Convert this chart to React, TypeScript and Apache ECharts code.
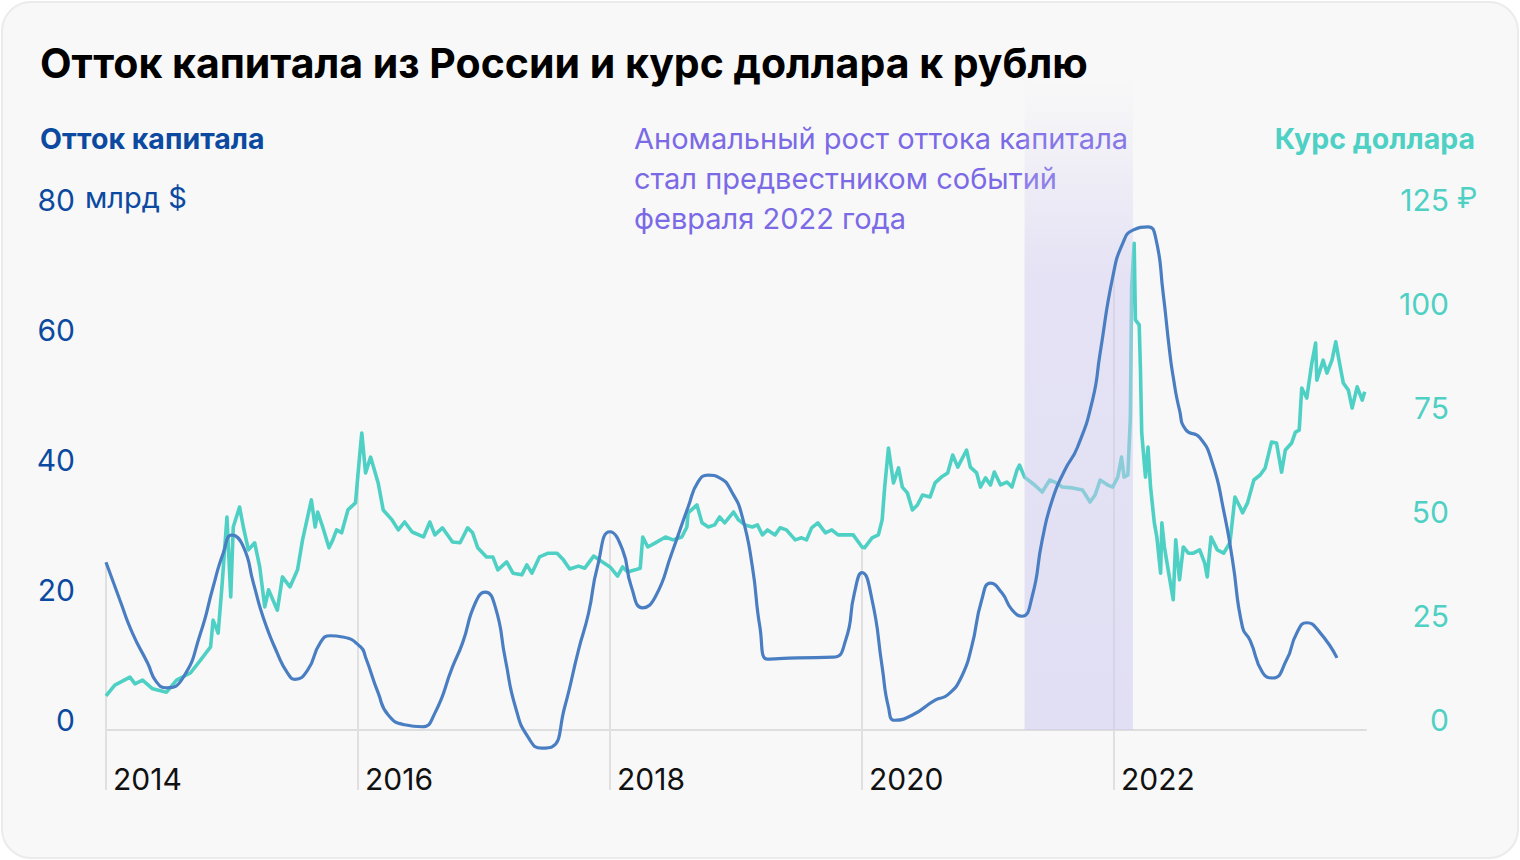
import React, { useEffect, useRef } from "react";
import * as echarts from "echarts";

// ---- DATA ----
const outflowYears = [
  2014.0, 2014.11, 2014.21, 2014.33, 2014.4, 2014.48, 2014.61, 2014.75, 2014.85, 2014.93,
  2015.0, 2015.09, 2015.17, 2015.25, 2015.36, 2015.44, 2015.5, 2015.6, 2015.7, 2015.78,
  2015.88, 2016.02, 2016.06, 2016.16, 2016.24, 2016.37, 2016.51, 2016.61, 2016.75, 2016.83,
  2016.93, 2017.01, 2017.09, 2017.17, 2017.25, 2017.35, 2017.46, 2017.54, 2017.64, 2017.75,
  2017.83, 2017.9, 2018.0, 2018.1, 2018.17, 2018.26, 2018.36, 2018.49, 2018.62, 2018.7,
  2018.78, 2018.87, 2018.97, 2019.05, 2019.13, 2019.19, 2019.25, 2019.49, 2019.77, 2019.87,
  2019.94, 2020.0, 2020.08, 2020.16, 2020.21, 2020.26, 2020.4, 2020.58, 2020.68, 2020.79,
  2020.87, 2020.95, 2021.02, 2021.11, 2021.19, 2021.27, 2021.35, 2021.43, 2021.51, 2021.61,
  2021.71, 2021.83, 2021.89, 2021.99, 2022.07, 2022.15, 2022.27, 2022.33, 2022.39, 2022.44,
  2022.47, 2022.52, 2022.57, 2022.68, 2022.78, 2022.87, 2022.94, 2023.02, 2023.08, 2023.18,
  2023.26, 2023.37, 2023.45, 2023.53, 2023.63, 2023.77,
];
const outflowValues = [
  25.8, 20.0, 14.9, 10.3, 7.4, 6.5, 8.0, 14.9, 22.0, 27.2,
  30.0, 28.2, 22.6, 17.2, 11.8, 8.8, 7.8, 9.2, 13.4, 14.5,
  14.3, 12.8, 11.2, 5.7, 2.3, 0.8, 0.5, 2.6, 9.7, 13.4,
  19.5, 21.2, 18.9, 10.8, 3.5, -1.1, -2.8, -2.6, 3.5, 12.3,
  18.0, 25.1, 30.5, 27.7, 22.0, 18.8, 20.5, 27.2, 34.3, 38.2,
  39.2, 38.8, 36.5, 32.8, 25.1, 15.8, 10.9, 11.1, 11.2, 13.8,
  21.1, 24.2, 20.0, 9.7, 3.5, 1.5, 2.3, 4.6, 5.4, 8.2,
  12.8, 20.0, 22.6, 21.1, 18.5, 17.5, 20.5, 29.2, 35.4, 40.0,
  43.5, 50.8, 58.0, 69.7, 74.9, 76.9, 77.4, 75.8, 67.2, 58.5,
  54.3, 49.2, 46.2, 45.0, 41.1, 33.8, 26.2, 15.8, 13.8, 8.8,
  8.0, 10.8, 14.9, 16.5, 15.1, 11.1,
];

const rateYears = [
  2014.0, 2014.07, 2014.19, 2014.23, 2014.29, 2014.37, 2014.48, 2014.56, 2014.67, 2014.75,
  2014.83, 2014.85, 2014.89, 2014.92, 2014.96, 2014.99, 2015.01, 2015.06, 2015.09, 2015.13,
  2015.18, 2015.22, 2015.26, 2015.29, 2015.36, 2015.4, 2015.46, 2015.52, 2015.56, 2015.63,
  2015.66, 2015.68, 2015.72, 2015.77, 2015.8, 2015.83, 2015.87, 2015.92, 2015.98, 2016.01,
  2016.03, 2016.06, 2016.1, 2016.13, 2016.16, 2016.2, 2016.27, 2016.32, 2016.37, 2016.43,
  2016.52, 2016.57, 2016.61, 2016.67, 2016.75, 2016.81, 2016.87, 2016.91, 2016.95, 2017.02,
  2017.07, 2017.11, 2017.18, 2017.23, 2017.3, 2017.34, 2017.38, 2017.44, 2017.51, 2017.58,
  2017.63, 2017.68, 2017.75, 2017.8, 2017.87, 2017.94, 2018.0, 2018.02, 2018.06, 2018.1,
  2018.14, 2018.2, 2018.24, 2018.26, 2018.3, 2018.36, 2018.44, 2018.5, 2018.57, 2018.61,
  2018.62, 2018.69, 2018.73, 2018.78, 2018.83, 2018.87, 2018.91, 2018.98, 2019.02, 2019.07,
  2019.13, 2019.17, 2019.21, 2019.25, 2019.31, 2019.35, 2019.4, 2019.47, 2019.52, 2019.56,
  2019.6, 2019.65, 2019.71, 2019.76, 2019.81, 2019.87, 2019.93, 2020.0, 2020.02, 2020.08,
  2020.13, 2020.16, 2020.18, 2020.21, 2020.25, 2020.29, 2020.32, 2020.36, 2020.4, 2020.44,
  2020.48, 2020.54, 2020.58, 2020.63, 2020.68, 2020.72, 2020.76, 2020.83, 2020.86, 2020.91,
  2020.94, 2020.98, 2021.02, 2021.05, 2021.1, 2021.15, 2021.19, 2021.23, 2021.25, 2021.29,
  2021.37, 2021.43, 2021.49, 2021.53, 2021.59, 2021.67, 2021.75, 2021.81, 2021.85, 2021.89,
  2021.95, 2021.99, 2022.03, 2022.06, 2022.08, 2022.11, 2022.13, 2022.14, 2022.16, 2022.17,
  2022.2, 2022.21, 2022.22, 2022.25, 2022.27, 2022.29, 2022.32, 2022.34, 2022.37, 2022.38,
  2022.4, 2022.43, 2022.47, 2022.49, 2022.52, 2022.55, 2022.59, 2022.63, 2022.68, 2022.72,
  2022.74, 2022.77, 2022.82, 2022.87, 2022.92, 2022.96, 2023.0, 2023.02, 2023.06, 2023.11,
  2023.16, 2023.2, 2023.25, 2023.29, 2023.33, 2023.36, 2023.41, 2023.44, 2023.47, 2023.49,
  2023.53, 2023.57, 2023.6, 2023.61, 2023.66, 2023.69, 2023.73, 2023.76, 2023.79, 2023.82,
  2023.86, 2023.89, 2023.93, 2023.97, 2023.99,
];
const rateValues = [
  8.2, 10.8, 12.7, 11.1, 12.0, 9.9, 9.1, 12.0, 13.7, 16.8,
  20.0, 26.4, 23.3, 34.4, 51.2, 32.0, 48.8, 53.6, 48.8, 43.3,
  45.0, 39.2, 29.6, 33.7, 28.8, 36.8, 34.4, 38.5, 45.7, 55.3,
  48.8, 52.4, 48.8, 43.8, 45.7, 48.1, 47.4, 52.9, 54.6, 64.9,
  71.4, 61.8, 65.6, 62.5, 59.4, 52.9, 50.5, 48.1, 50.0, 47.6,
  46.4, 50.0, 46.9, 48.6, 45.2, 45.0, 48.6, 47.4, 43.8, 41.6,
  41.6, 38.5, 40.4, 37.7, 37.3, 39.7, 37.7, 41.6, 42.5, 42.5,
  40.9, 38.7, 39.4, 38.9, 41.8, 40.4, 39.2, 38.5, 37.0, 39.2,
  38.0, 38.5, 38.9, 46.4, 44.0, 45.0, 46.4, 45.7, 46.4, 48.8,
  52.2, 54.1, 49.8, 48.8, 49.3, 51.2, 49.8, 52.4, 50.5, 49.3,
  48.8, 49.3, 46.9, 48.1, 46.9, 48.6, 48.1, 45.7, 46.2, 45.7,
  48.6, 49.8, 47.4, 48.1, 46.9, 46.9, 46.9, 44.0, 43.8, 46.2,
  46.9, 50.5, 58.4, 67.8, 59.4, 63.0, 58.4, 57.0, 52.9, 54.1,
  56.5, 56.0, 59.4, 60.8, 61.8, 66.1, 63.2, 67.3, 63.2, 61.8,
  58.4, 60.6, 58.9, 62.0, 58.9, 59.6, 58.4, 62.5, 63.7, 60.8,
  58.9, 57.2, 60.1, 59.6, 58.4, 58.2, 57.7, 54.8, 56.5, 60.1,
  58.9, 58.4, 60.8, 65.6, 60.8, 61.3, 75.2, 106.5, 117.0, 98.6,
  97.4, 86.5, 71.4, 60.8, 68.0, 58.4, 49.8, 46.4, 37.7, 49.8,
  44.0, 38.5, 31.3, 45.7, 36.1, 44.0, 42.5, 42.5, 43.3, 40.1,
  36.8, 46.4, 43.3, 42.5, 45.0, 56.0, 53.6, 52.2, 54.6, 60.1,
  61.3, 63.0, 69.2, 69.0, 62.0, 67.3, 69.0, 71.6, 72.1, 82.2,
  79.8, 88.2, 93.0, 84.1, 88.9, 85.8, 88.9, 93.3, 88.2, 83.4,
  81.7, 77.4, 82.5, 79.3, 81.3,
];

const yearTicks = [2014, 2016, 2018, 2020, 2022];
const highlightPeriod = [2021.29, 2022.15];

const TITLE = "Отток капитала из России и курс доллара к рублю";
const LEFT_NAME = "Отток капитала";
const RIGHT_NAME = "Курс доллара";
const LEFT_UNIT = "млрд $";
const RIGHT_UNIT = "₽";
const NOTE = [
  "Аномальный рост оттока капитала",
  "стал предвестником событий",
  "февраля 2022 года",
];

const LEFT_MAX = 80;
const RIGHT_MAX = 125;

const BLUE = "#4a7ec2";
const TEAL = "#4fd0c4";
const DARK_BLUE = "#0b4aa0";
const PURPLE = "#7b6ae6";
const FONT = "Inter, 'Noto Sans', sans-serif";

function interp(xs: number[], ys: number[], x: number): number {
  if (x <= xs[0]) return ys[0];
  for (let i = 1; i < xs.length; i++) {
    if (xs[i] >= x) {
      const t = (x - xs[i - 1]) / (xs[i] - xs[i - 1]);
      return ys[i - 1] + t * (ys[i] - ys[i - 1]);
    }
  }
  return ys[ys.length - 1];
}

export default function App() {
  const ref = useRef<HTMLDivElement>(null);

  useEffect(() => {
    if (!ref.current) return;
    const chart = echarts.init(ref.current, null, { renderer: "svg" });

    const outflowData = outflowYears.map((x, i) => [x, outflowValues[i]]);
    const rateData = rateYears.map((x, i) => [x, rateValues[i]]);
    const dropData = yearTicks.map((x) => [
      x,
      Math.max(interp(outflowYears, outflowValues, x), (interp(rateYears, rateValues, x) * LEFT_MAX) / RIGHT_MAX),
    ]);

    const labelBase = {
      fontFamily: FONT,
      fontSize: 30,
    };

    chart.setOption({
      animation: false,
      backgroundColor: "transparent",
      textStyle: { fontFamily: FONT },
      grid: { left: 106, right: 154, top: 210, bottom: 130, containLabel: false },
      xAxis: {
        type: "value",
        min: 2014,
        max: 2024,
        interval: 2,
        axisLine: { show: true, onZero: true, lineStyle: { color: "#dedede", width: 2 } },
        axisTick: { show: false },
        splitLine: { show: false },
        axisLabel: {
          ...labelBase,
          color: "#111111",
          align: "left",
          verticalAlign: "top",
          lineHeight: 30,
          margin: 34,
          padding: [0, 0, 0, 7],
          showMaxLabel: false,
          formatter: (v: number) => String(v),
        },
      },
      yAxis: [
        {
          type: "value",
          min: 0,
          max: LEFT_MAX,
          interval: 20,
          position: "left",
          axisLine: { show: false },
          axisTick: { show: false },
          splitLine: { show: false },
          axisLabel: {
            ...labelBase,
            color: DARK_BLUE,
            align: "right",
            verticalAlign: "bottom",
            lineHeight: 20,
            margin: 31,
          },
        },
        {
          type: "value",
          min: 0,
          max: RIGHT_MAX,
          interval: 25,
          position: "right",
          axisLine: { show: false },
          axisTick: { show: false },
          splitLine: { show: false },
          axisLabel: {
            ...labelBase,
            color: TEAL,
            align: "right",
            verticalAlign: "bottom",
            lineHeight: 20,
            margin: 83,
          },
        },
      ],
      series: [
        {
          type: "custom",
          name: "drops",
          z: 1,
          silent: true,
          xAxisIndex: 0,
          yAxisIndex: 0,
          data: dropData,
          encode: { x: 0, y: 1 },
          renderItem: (params: any, api: any) => {
            const p = api.coord([api.value(0), api.value(1)]);
            const cs = params.coordSys;
            return {
              type: "line",
              shape: { x1: p[0], y1: p[1], x2: p[0], y2: cs.y + cs.height + 60 },
              style: { stroke: "#e0e0e0", lineWidth: 2 },
            };
          },
        },
        {
          type: "line",
          name: RIGHT_NAME,
          yAxisIndex: 1,
          z: 2,
          data: rateData,
          showSymbol: false,
          symbol: "none",
          lineStyle: { color: TEAL, width: 3.6, join: "round" },
          clip: false,
        },
        {
          type: "custom",
          name: "band",
          z: 3,
          silent: true,
          xAxisIndex: 0,
          yAxisIndex: 0,
          data: [[highlightPeriod[0], highlightPeriod[1]]],
          encode: { x: [0, 1] },
          renderItem: (params: any, api: any) => {
            const a = api.coord([api.value(0), 0]);
            const b = api.coord([api.value(1), 0]);
            const cs = params.coordSys;
            const top = cs.y - 130;
            return {
              type: "rect",
              shape: { x: a[0], y: top, width: b[0] - a[0], height: cs.y + cs.height - top },
              style: {
                fill: new echarts.graphic.LinearGradient(0, 0, 0, 1, [
                  { offset: 0, color: "rgba(205,200,240,0)" },
                  { offset: 0.3, color: "rgba(205,200,240,0.45)" },
                  { offset: 1, color: "rgba(205,200,240,0.52)" },
                ]),
              },
            };
          },
        },
        {
          type: "line",
          name: LEFT_NAME,
          yAxisIndex: 0,
          z: 4,
          data: outflowData,
          smooth: 0.55,
          showSymbol: false,
          symbol: "none",
          lineStyle: { color: BLUE, width: 3.2 },
          clip: false,
        },
      ],
      graphic: [
        {
          type: "text",
          left: 40,
          top: 42,
          style: { text: TITLE, font: `bold 41px ${FONT}`, fill: "#000000" },
        },
        {
          type: "text",
          left: 40,
          top: 124,
          style: { text: LEFT_NAME, font: `bold 28.5px ${FONT}`, fill: DARK_BLUE },
        },
        {
          type: "text",
          right: 45,
          top: 124,
          style: { text: RIGHT_NAME, font: `bold 28.5px ${FONT}`, fill: TEAL },
        },
        {
          type: "text",
          left: 85,
          top: 183,
          style: { text: LEFT_UNIT, font: `29px ${FONT}`, fill: DARK_BLUE },
        },
        {
          type: "text",
          left: 1457,
          top: 183,
          style: { text: RIGHT_UNIT, font: `29px ${FONT}`, fill: TEAL },
        },
        ...NOTE.map((line, i) => ({
          type: "text",
          left: 634,
          top: 124 + i * 40,
          style: { text: line, font: `29px ${FONT}`, fill: PURPLE },
        })),
      ],
    });

    return () => chart.dispose();
  }, []);

  return (
    <div style={{ position: "fixed", left: 0, top: 0, width: 1520, height: 860, background: "#ffffff" }}>
      <div
        style={{
          position: "absolute",
          left: 1,
          top: 1,
          width: 1518,
          height: 858,
          boxSizing: "border-box",
          border: "2px solid #ebebeb",
          borderRadius: 30,
          background: "#f8f8f8",
        }}
      />
      <div ref={ref} style={{ position: "absolute", left: 0, top: 0, width: 1520, height: 860 }} />
    </div>
  );
}
